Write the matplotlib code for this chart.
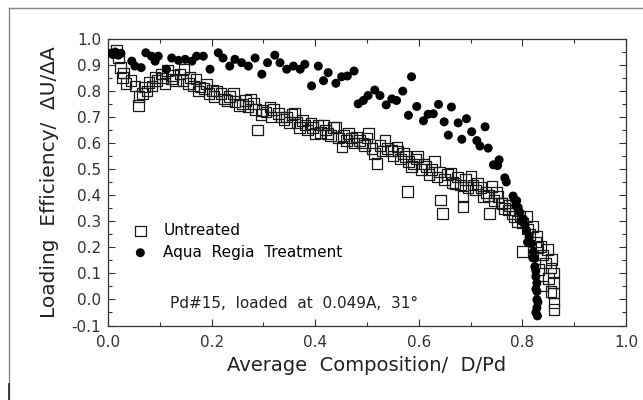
import matplotlib
matplotlib.use("Agg")

import matplotlib.pyplot as plt
from matplotlib.ticker import MultipleLocator, FormatStrFormatter
from matplotlib.lines import Line2D

plt.rcParams['font.family'] = ['DejaVu Sans']

# ---------------- data ----------------

# Untreated (open squares)
untreated_x = [0.016, 0.020, 0.024, 0.028, 0.030, 0.035, 0.044, 0.052, 0.059, 0.060,
               0.067, 0.071, 0.075, 0.079, 0.085, 0.091, 0.095, 0.103, 0.105, 0.110,
               0.115, 0.123, 0.125, 0.130, 0.139, 0.145, 0.147, 0.155, 0.158, 0.165,
               0.170, 0.175, 0.178, 0.185, 0.190, 0.195, 0.202, 0.205, 0.210, 0.218,
               0.225, 0.230, 0.235, 0.242, 0.245, 0.254, 0.260, 0.265, 0.270, 0.275,
               0.281, 0.285, 0.289, 0.295, 0.297, 0.305, 0.313, 0.315, 0.320, 0.329,
               0.335, 0.340, 0.345, 0.350, 0.355, 0.360, 0.365, 0.370, 0.376, 0.380,
               0.385, 0.392, 0.395, 0.400, 0.405, 0.410, 0.416, 0.420, 0.424, 0.430,
               0.435, 0.440, 0.445, 0.452, 0.455, 0.460, 0.464, 0.470, 0.475, 0.480,
               0.485, 0.491, 0.495, 0.500, 0.503, 0.510, 0.515, 0.519, 0.525, 0.530,
               0.535, 0.540, 0.547, 0.550, 0.558, 0.560, 0.565, 0.570, 0.574, 0.578,
               0.580, 0.586, 0.590, 0.595, 0.598, 0.605, 0.610, 0.614, 0.620, 0.625,
               0.630, 0.635, 0.640, 0.642, 0.646, 0.650, 0.655, 0.662, 0.665, 0.670,
               0.675, 0.680, 0.685, 0.685, 0.690, 0.695, 0.701, 0.705, 0.710, 0.713,
               0.720, 0.725, 0.730, 0.735, 0.737, 0.741, 0.745, 0.750, 0.753, 0.760,
               0.761, 0.765, 0.773, 0.775, 0.780, 0.784, 0.790, 0.795, 0.800, 0.800,
               0.808, 0.810, 0.815, 0.820, 0.825, 0.828, 0.830, 0.832, 0.836, 0.840,
               0.840, 0.845, 0.848, 0.850, 0.855, 0.855, 0.856, 0.860, 0.860, 0.860,
               0.861, 0.861]
untreated_y = [0.955, 0.930, 0.890, 0.853, 0.870, 0.830, 0.840, 0.820, 0.745, 0.780,
               0.790, 0.815, 0.800, 0.834, 0.820, 0.853, 0.840, 0.866, 0.850, 0.830,
               0.879, 0.847, 0.860, 0.840, 0.866, 0.840, 0.885, 0.830, 0.853, 0.820,
               0.847, 0.800, 0.815, 0.810, 0.828, 0.790, 0.803, 0.780, 0.800, 0.790,
               0.770, 0.764, 0.780, 0.790, 0.760, 0.745, 0.750, 0.764, 0.740, 0.770,
               0.752, 0.730, 0.650, 0.710, 0.726, 0.720, 0.739, 0.700, 0.730, 0.713,
               0.700, 0.690, 0.701, 0.680, 0.710, 0.713, 0.680, 0.660, 0.688, 0.670,
               0.650, 0.675, 0.660, 0.637, 0.670, 0.640, 0.669, 0.650, 0.637, 0.630,
               0.660, 0.662, 0.620, 0.586, 0.630, 0.610, 0.637, 0.620, 0.600, 0.624,
               0.610, 0.600, 0.590, 0.620, 0.637, 0.580, 0.560, 0.522, 0.590, 0.570,
               0.611, 0.580, 0.573, 0.550, 0.586, 0.570, 0.540, 0.560, 0.548, 0.414,
               0.530, 0.510, 0.520, 0.540, 0.548, 0.500, 0.520, 0.510, 0.480, 0.500,
               0.529, 0.470, 0.490, 0.382, 0.331, 0.460, 0.480, 0.484, 0.450, 0.446,
               0.470, 0.440, 0.395, 0.357, 0.460, 0.430, 0.471, 0.440, 0.420, 0.446,
               0.430, 0.395, 0.410, 0.400, 0.331, 0.433, 0.380, 0.410, 0.395, 0.370,
               0.369, 0.350, 0.344, 0.360, 0.330, 0.318, 0.300, 0.320, 0.293, 0.185,
               0.318, 0.270, 0.250, 0.280, 0.220, 0.242, 0.200, 0.115, 0.204, 0.170,
               0.051, 0.140, 0.191, 0.080, 0.120, 0.030, 0.153, 0.102, 0.064, 0.025,
               -0.013, -0.038]

# Aqua Regia Treatment (filled circles)
aqua_x = [0.005, 0.010, 0.014, 0.020, 0.025, 0.046, 0.052, 0.064, 0.073, 0.084,
          0.091, 0.097, 0.113, 0.123, 0.136, 0.149, 0.162, 0.171, 0.184, 0.197,
          0.213, 0.222, 0.235, 0.245, 0.258, 0.271, 0.284, 0.297, 0.308, 0.322,
          0.332, 0.345, 0.358, 0.371, 0.380, 0.393, 0.406, 0.416, 0.425, 0.440,
          0.451, 0.462, 0.475, 0.483, 0.493, 0.502, 0.515, 0.525, 0.537, 0.548,
          0.557, 0.569, 0.580, 0.586, 0.596, 0.609, 0.618, 0.628, 0.638, 0.649,
          0.657, 0.663, 0.676, 0.683, 0.692, 0.702, 0.712, 0.718, 0.728, 0.734,
          0.744, 0.752, 0.755, 0.766, 0.769, 0.782, 0.784, 0.787, 0.789, 0.792,
          0.795, 0.798, 0.802, 0.805, 0.808, 0.810, 0.813, 0.818, 0.820, 0.821,
          0.824, 0.824, 0.826, 0.826, 0.828, 0.828, 0.826, 0.828, 0.830, 0.828,
          0.826, 0.829]
aqua_y = [0.945, 0.940, 0.950, 0.938, 0.945, 0.915, 0.896, 0.890, 0.947, 0.934,
          0.915, 0.934, 0.884, 0.927, 0.918, 0.922, 0.915, 0.934, 0.934, 0.884,
          0.947, 0.927, 0.896, 0.922, 0.909, 0.896, 0.927, 0.865, 0.909, 0.938,
          0.909, 0.884, 0.896, 0.884, 0.903, 0.820, 0.896, 0.840, 0.871, 0.830,
          0.855, 0.858, 0.877, 0.751, 0.764, 0.783, 0.804, 0.783, 0.747, 0.770,
          0.764, 0.800, 0.707, 0.855, 0.741, 0.686, 0.711, 0.713, 0.749, 0.682,
          0.631, 0.739, 0.678, 0.615, 0.694, 0.644, 0.610, 0.589, 0.663, 0.581,
          0.517, 0.514, 0.536, 0.467, 0.451, 0.397, 0.385, 0.360, 0.379, 0.353,
          0.334, 0.300, 0.309, 0.284, 0.265, 0.220, 0.240, 0.214, 0.160, 0.183,
          0.158, 0.126, 0.110, 0.088, 0.063, 0.031, 0.040, 0.000, -0.010, -0.032,
          -0.050, -0.063]

label_untreated = "Untreated"
label_aqua = "Aqua  Regia  Treatment"
note = "Pd#15,  loaded  at  0.049A,  31\u00b0"

# ---------------- plot ----------------

fig = plt.figure(figsize=(6.43, 4.0), dpi=100)
ax = fig.add_axes([108/643, 74.5/400, 518/643, 286.5/400])

ax.scatter(untreated_x, untreated_y, marker="s", s=58, facecolors="none",
           edgecolors="#1a1a1a", linewidths=0.9, label=label_untreated, zorder=2)
ax.scatter(aqua_x, aqua_y, marker="o", s=42, color="black",
           edgecolors="none", label=label_aqua, zorder=3)

ax.set_xlim(0, 1.0)
ax.set_ylim(-0.1, 1.0)

ax.xaxis.set_major_locator(MultipleLocator(0.2))
ax.xaxis.set_minor_locator(MultipleLocator(0.1))
ax.yaxis.set_major_locator(MultipleLocator(0.1))
ax.yaxis.set_minor_locator(MultipleLocator(0.05))
ax.xaxis.set_major_formatter(FormatStrFormatter("%.1f"))
ax.yaxis.set_major_formatter(FormatStrFormatter("%.1f"))

ax.tick_params(which="both", direction="in", top=True, right=True,
               color="#333333", width=0.8)
ax.tick_params(which="major", length=5)
ax.tick_params(which="minor", length=3)
ax.tick_params(axis="x", which="major", pad=7, labelsize=11, labelcolor="#333333")
ax.tick_params(axis="y", which="major", pad=5, labelsize=11, labelcolor="#333333")

for s in ax.spines.values():
    s.set_linewidth(0.9)
    s.set_color("#333333")

ax.set_xlabel("Average  Composition/  D/Pd", fontsize=14, color="#222222",
              labelpad=4)
ax.set_ylabel("Loading  Efficiency/  \u0394U/\u0394A", fontsize=14.5,
              color="#222222", labelpad=9)

ax.legend(loc="upper left", bbox_to_anchor=(0.03, 0.385), frameon=False,
          fontsize=11, handletextpad=0.9, labelspacing=0.45, borderpad=0,
          handlelength=1.2, scatterpoints=1)

ax.text(0.12, -0.015, note, fontsize=11, color="#222222", va="center", ha="left")

# outer frame lines of the scanned figure
fig.add_artist(Line2D([9/643, 1.0], [1 - 8/400, 1 - 8/400], color="#888888", lw=1))
fig.add_artist(Line2D([9/643, 9/643], [0.0, 1 - 8/400], color="#888888", lw=1))
fig.add_artist(Line2D([9/643, 9/643], [0.0, 16/400], color="#222222", lw=1.2))

fig.savefig("out.png", dpi=100)
